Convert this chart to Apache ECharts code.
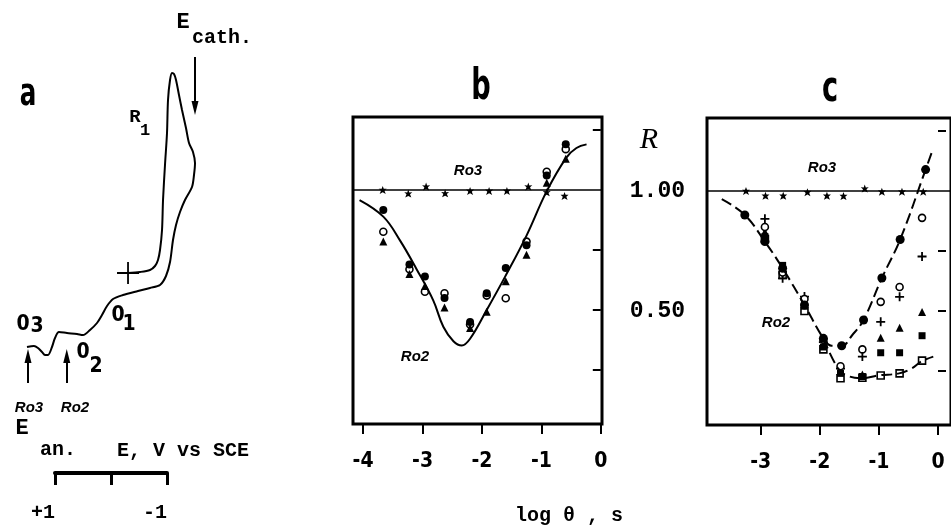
<!DOCTYPE html>
<html>
<head>
<meta charset="utf-8">
<script src="https://cdn.jsdelivr.net/npm/echarts@6/dist/echarts.min.js"></script>
<style>
html,body{margin:0;padding:0;background:#fff}
#chart{width:951px;height:527px}
</style>
</head>
<body>
<div id="chart"></div>
<script>
// panel a: cyclic voltammogram, E in V vs SCE, current in arbitrary units
let cvE = [-0.304, -0.518, -0.696, -0.786, -0.839, -0.875, -0.911, -0.929, -0.964, -1.0, -1.018, -1.054, -1.089, -1.125, -1.161, -1.214, -1.268, -1.339, -1.393, -1.464, -1.5, -1.482, -1.446, -1.321, -1.232, -1.161, -1.107, -1.054, -0.982, -0.875, -0.696, -0.482, -0.214, -0.036, 0.071, 0.161, 0.25, 0.375, 0.5, 0.607, 0.786, 0.929, 1.0, 1.054, 1.125, 1.179, 1.232, 1.304, 1.375, 1.5]
let cvI = [7.7, 7.8, 8.0, 8.4, 9.0, 10.0, 12.0, 15.0, 18.5, 21.7, 25.0, 27.0, 27.7, 27.6, 27.0, 25.5, 24.0, 22.2, 20.7, 19.8, 18.7, 17.5, 16.3, 15.0, 13.8, 12.5, 11.0, 8.8, 7.4, 6.5, 6.2, 5.9, 5.5, 5.1, 4.4, 3.5, 2.7, 2.0, 1.5, 1.6, 1.7, 1.8, 1.2, 0.3, -0.5, -0.5, -0.2, 0.2, 0.4, 0.3]
let cvStart = [-0.304, 7.7]
let eCath = -1.5
let eRo3 = 1.482
let eRo2 = 0.79

// panel b
let bX = [-3.66, -3.22, -2.96, -2.63, -2.20, -1.92, -1.60, -1.25, -0.91, -0.59]
let bFull = [0.917, 0.69, 0.64, 0.55, 0.45, 0.57, 0.675, 0.77, 1.06, 1.19]
let bOpen = [0.826, 0.67, 0.576, 0.57, 0.44, 0.56, 0.549, 0.785, 1.076, 1.17]
let bTri = [0.785, 0.65, 0.60, 0.51, 0.425, 0.493, 0.62, 0.73, 1.03, 1.13]
let bRo3X = [-3.67, -3.24, -2.94, -2.62, -2.20, -1.88, -1.58, -1.22, -0.91, -0.61]
let bRo3 = [1.00, 0.985, 1.014, 0.986, 0.996, 0.996, 0.996, 1.014, 0.99, 0.975]
let bFitX = [-4.06, -3.66, -3.38, -3.10, -2.82, -2.65, -2.48, -2.34, -2.20, -1.92, -1.61, -1.25, -0.91, -0.58, -0.41, -0.24]
let bFitY = [0.958, 0.889, 0.79, 0.67, 0.54, 0.43, 0.37, 0.352, 0.38, 0.50, 0.639, 0.81, 0.995, 1.135, 1.175, 1.19]

// panel c
let cFullX = [-3.27, -2.93, -2.63, -2.26, -1.94, -1.63, -1.26, -0.95, -0.64, -0.21]
let cFull = [0.90, 0.789, 0.678, 0.525, 0.386, 0.355, 0.4625, 0.6375, 0.798, 1.089]
let cX = [-2.93, -2.63, -2.26, -1.94, -1.65, -1.28, -0.97, -0.65, -0.27]
let cOpen = [0.85, 0.66, 0.55, 0.38, 0.27, 0.34, 0.538, 0.60, 0.888]
let cPlus = [0.884, 0.636, 0.56, 0.37, 0.26, 0.31, 0.455, 0.559, 0.727]
let cTri = [0.83, 0.67, 0.54, 0.36, 0.25, 0.235, 0.388, 0.43, 0.496]
let cSq = [0.81, 0.69, 0.52, 0.35, 0.24, 0.227, 0.326, 0.326, 0.397]
let cOpenSq = [0.80, 0.65, 0.50, 0.34, 0.22, 0.222, 0.231, 0.24, 0.293]
let cRo3X = [-3.25, -2.92, -2.62, -2.21, -1.88, -1.60, -1.24, -0.95, -0.61, -0.25]
let cRo3 = [1.0, 0.98, 0.98, 0.995, 0.98, 0.979, 1.01, 0.997, 0.997, 0.997]
let cUpX = [-3.66, -3.27, -2.93, -2.63, -2.26, -1.94, -1.80, -1.63, -1.45, -1.26, -0.95, -0.64, -0.21, -0.11]
let cUpY = [0.966, 0.90, 0.789, 0.678, 0.525, 0.386, 0.355, 0.355, 0.40, 0.4625, 0.6375, 0.798, 1.089, 1.158]
let cLoX = [-1.94, -1.69, -1.52, -1.28, -1.0, -0.66, -0.45, -0.28, -0.08]
let cLoY = [0.386, 0.26, 0.229, 0.22, 0.232, 0.24, 0.26, 0.29, 0.31]

let logTicksB = [-4, -3, -2, -1, 0]
let logTicksC = [-3, -2, -1, 0]
let rTicks = [0.25, 0.5, 0.75, 1.25]
let rLabels = [0.5, 1.0]

const zip = (xs, ys) => xs.map((x, i) => [x, ys[i]])
const MONO = 'Liberation Mono'
const COND = 'DejaVu Sans Condensed'
const SANS = 'Liberation Sans'
const STAR = 'path://M5,0L6.3,3.2L10,3L7.2,5.3L8.8,9L5,7.2L1.2,9L2.8,5.3L0,3L3.7,3.2Z'
const PLUS = 'path://M4,0H6V4H10V6H6V10H4V6H0V4H4Z'

function txt(x, y, text, size, family, extra, sx) {
  return {
    type: 'text', x: x, y: y, silent: true, scaleX: sx || 1,
    style: Object.assign({
      text: text, fontSize: size, fontFamily: family, fontWeight: 'bold', fill: '#000',
      align: 'center', verticalAlign: 'middle'
    }, extra || {})
  }
}

function dots(name, xi, data, symbol, size, filled) {
  return {
    name: name, type: 'scatter', xAxisIndex: xi, yAxisIndex: xi, data: data,
    symbol: symbol, symbolSize: size, clip: false,
    itemStyle: filled
      ? { color: '#000', opacity: 1 }
      : { color: '#fff', borderColor: '#000', borderWidth: 1.6, opacity: 1 }
  }
}

function ro3Line(xi, data) {
  return {
    type: 'scatter', xAxisIndex: xi, yAxisIndex: xi, data: data,
    symbol: STAR, symbolSize: 8, itemStyle: { color: '#000', opacity: 1 },
    markLine: {
      silent: true, symbol: 'none', label: { show: false },
      lineStyle: { color: '#000', width: 1.6, type: 'solid' },
      data: [{ yAxis: 1 }]
    }
  }
}

function arrow(e, i0, i1) {
  return [{ coord: [e, i0] }, { coord: [e, i1] }]
}

let logAxis = (gi, min, max, ticks) => ({
  gridIndex: gi, type: 'value', min: min, max: max,
  axisLine: { show: false }, splitLine: { show: false },
  axisTick: { show: true, inside: false, length: 10, lineStyle: { color: '#000', width: 2 }, customValues: ticks },
  axisLabel: { customValues: ticks, margin: 27, fontSize: 21, fontFamily: COND, fontWeight: 'bold', color: '#000' }
})

let rAxis = (gi, pos, labels) => ({
  gridIndex: gi, type: 'value', min: 0.025, max: 1.304, position: pos,
  axisLine: { show: false }, splitLine: { show: false },
  axisTick: { show: true, inside: true, length: 8, lineStyle: { color: '#000', width: 2 }, customValues: rTicks },
  axisLabel: labels ? {
    customValues: rLabels, margin: 22, fontSize: 23, fontFamily: MONO, fontWeight: 'bold', color: '#000',
    formatter: v => v.toFixed(2)
  } : { show: false }
})

let box = { show: true, borderColor: '#000', borderWidth: 3, backgroundColor: 'transparent' }

let option = {
  animation: false,
  backgroundColor: '#fff',
  grid: [
    { left: 0, top: 50, width: 222, height: 400 },
    Object.assign({ left: 353, top: 117, width: 249, height: 307 }, box),
    Object.assign({ left: 707, top: 118, width: 250, height: 307 }, box),
    { left: 55, top: 470, width: 112, height: 3 }
  ],
  xAxis: [
    { gridIndex: 0, type: 'value', min: -1.982, max: 1.982, inverse: true, show: false },
    logAxis(1, -4.17, 0.02, logTicksB),
    logAxis(2, -3.91, 0.22, logTicksC),
    {
      gridIndex: 3, type: 'value', min: -1, max: 1, inverse: true,
      splitLine: { show: false },
      axisLine: { show: true, lineStyle: { color: '#000', width: 4 } },
      axisTick: { show: true, length: 12, lineStyle: { color: '#000', width: 3 }, customValues: [-1, 0, 1] },
      axisLabel: {
        customValues: [-1, 1], margin: 30, fontSize: 20, fontFamily: MONO, fontWeight: 'bold',
        color: '#000', align: 'right', formatter: v => (v > 0 ? '+1' : '-1')
      }
    }
  ],
  yAxis: [
    { gridIndex: 0, type: 'value', min: -10, max: 30, show: false },
    rAxis(1, 'right', false),
    rAxis(2, 'left', true),
    { gridIndex: 3, type: 'value', min: 0, max: 1, show: false }
  ],
  series: [
    {
      type: 'line', xAxisIndex: 0, yAxisIndex: 0, data: zip(cvE, cvI),
      smooth: 0.3, showSymbol: false, lineStyle: { color: '#000', width: 2 }
    },
    {
      type: 'scatter', xAxisIndex: 0, yAxisIndex: 0, data: [cvStart],
      symbol: 'path://M0,10L20,10M10,0L10,20', symbolSize: 22,
      itemStyle: { color: 'none', borderColor: '#000', borderWidth: 1.8, opacity: 1 },
      markLine: {
        silent: true, symbol: ['none', 'triangle'], symbolSize: [7, 14], label: { show: false },
        lineStyle: { color: '#000', width: 2, type: 'solid' },
        data: [arrow(eCath, 29.3, 24.2), arrow(eRo3, -3.3, -0.6), arrow(eRo2, -3.3, -0.6)]
      }
    },
    ro3Line(1, zip(bRo3X, bRo3)),
    {
      type: 'line', xAxisIndex: 1, yAxisIndex: 1, data: zip(bFitX, bFitY),
      smooth: 0.4, showSymbol: false, lineStyle: { color: '#000', width: 2 }
    },
    dots('b open', 1, zip(bX, bOpen), 'circle', 7, false),
    dots('b tri', 1, zip(bX, bTri), 'triangle', 8, true),
    dots('b full', 1, zip(bX, bFull), 'circle', 8, true),
    ro3Line(2, zip(cRo3X, cRo3)),
    {
      type: 'line', xAxisIndex: 2, yAxisIndex: 2, data: zip(cUpX, cUpY),
      smooth: 0.4, showSymbol: false, lineStyle: { color: '#000', width: 2, type: [11, 5] }
    },
    {
      type: 'line', xAxisIndex: 2, yAxisIndex: 2, data: zip(cLoX, cLoY),
      smooth: 0.4, showSymbol: false, lineStyle: { color: '#000', width: 2, type: [11, 5] }
    },
    dots('c open sq', 2, zip(cX, cOpenSq), 'rect', 7, false),
    dots('c sq', 2, zip(cX, cSq), 'rect', 7, true),
    dots('c tri', 2, zip(cX, cTri), 'triangle', 8, true),
    dots('c plus', 2, zip(cX, cPlus), PLUS, 9, true),
    dots('c open', 2, zip(cX, cOpen), 'circle', 7, false),
    dots('c full', 2, zip(cFullX, cFull), 'circle', 9, true)
  ],
  graphic: [
    txt(28, 95, 'a', 38, COND, null, 0.72),
    txt(481, 88, 'b', 42, COND, null, 0.72),
    txt(830, 90, 'c', 42, COND, null, 0.72),
    txt(649, 140, 'R', 30, 'Liberation Serif', { fontStyle: 'italic', fontWeight: 'normal' }),
    txt(183, 22, 'E', 22, MONO),
    txt(192, 38, 'cath.', 20, MONO, { align: 'left' }),
    txt(135, 117, 'R', 19, MONO),
    txt(145, 131, '1', 17, MONO),
    txt(118, 316, '0', 21, COND),
    txt(129, 325, '1', 21, COND),
    txt(83, 353, '0', 21, COND),
    txt(96, 367, '2', 21, COND),
    txt(23, 325, '0', 21, COND),
    txt(37, 327, '3', 21, COND),
    txt(29, 408, 'Ro3', 15, SANS, { fontStyle: 'italic' }),
    txt(75, 408, 'Ro2', 15, SANS, { fontStyle: 'italic' }),
    txt(22, 428, 'E', 22, MONO),
    txt(58, 450, 'an.', 20, MONO),
    txt(183, 451, 'E, V vs SCE', 20, MONO),
    txt(569, 516, 'log θ , s', 20, MONO),
    txt(468, 171, 'Ro3', 15, SANS, { fontStyle: 'italic' }),
    txt(415, 357, 'Ro2', 15, SANS, { fontStyle: 'italic' }),
    txt(822, 168, 'Ro3', 15, SANS, { fontStyle: 'italic' }),
    txt(776, 323, 'Ro2', 15, SANS, { fontStyle: 'italic' })
  ]
}

let oChart = echarts.init(document.getElementById('chart'))
oChart.setOption(option)
</script>
</body>
</html>
